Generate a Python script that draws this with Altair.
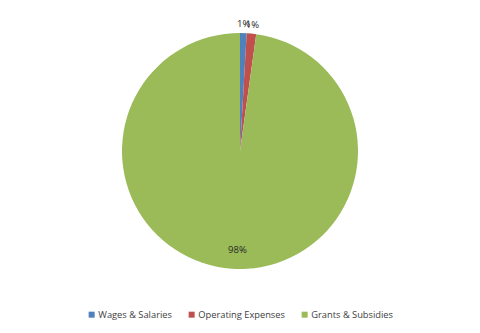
import altair as alt
import pandas as pd

categories = ["Wages & Salaries", "Operating Expenses", "Grants & Subsidies"]
values = [0.9, 1.3, 97.8]
labels = ["1%", "1%", "98%"]
colors = ["#4F81BD", "#C0504D", "#9BBB59"]

df = pd.DataFrame({
    "category": categories,
    "value": values,
    "label": labels,
    "idx": list(range(len(categories))),
})

color_scale = alt.Scale(domain=categories, range=colors)

base = alt.Chart(df).encode(
    theta=alt.Theta("value:Q", stack=True),
    order=alt.Order("idx:Q"),
)

pie = base.mark_arc(outerRadius=118).encode(
    color=alt.Color(
        "category:N",
        scale=color_scale,
        sort=categories,
        legend=alt.Legend(
            title=None,
            orient="none",
            legendX=87,
            legendY=310,
            direction="horizontal",
            symbolType="square",
            symbolSize=36,
            symbolStrokeWidth=0,
            labelFont="Open Sans",
            labelFontSize=9.3,
            labelColor="#404040",
            columnPadding=15,
            labelOffset=2,
        ),
    )
)

small_labels = base.mark_text(radius=127, font="Open Sans", fontSize=9.5, color="#262626").encode(
    text="label:N"
).transform_filter(alt.datum.value < 50)

big_label = base.mark_text(radius=108, dx=-10, dy=-9, font="Open Sans", fontSize=9.5, color="#262626").encode(
    text="label:N"
).transform_filter(alt.datum.value >= 50)

chart = alt.layer(pie, small_labels, big_label).properties(
    width=480, height=302,
    padding={"left": 0, "top": 0, "right": 0, "bottom": 31},
    autosize=alt.AutoSizeParams(type="none"),
).configure_view(stroke=None).configure(background="white")

chart.save("out.html", embed_options={"renderer": "svg", "actions": False})
